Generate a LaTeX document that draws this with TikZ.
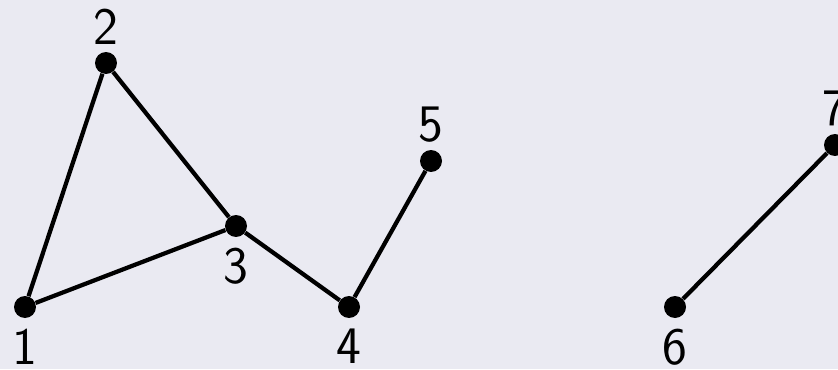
\documentclass[tikz,border=0pt]{standalone}
\usepackage{xcolor}
\usetikzlibrary{positioning}
\definecolor{bgpanel}{HTML}{EAEAF2}

\begin{document}
\begin{tikzpicture}[x=0.02cm,y=0.02cm,
    font=\sffamily\fontsize{30}{36}\selectfont,
    vertex/.style={circle,fill=black,inner sep=0pt,minimum size=0.44cm},
    edge/.style={line width=0.085cm},
    every label/.style={inner sep=0pt},
    below label/.style={label={[label distance=0.2cm]below:#1}},
    above label/.style={label={[label distance=0.14cm]above:#1}}]
    \fill[bgpanel] (0,0) rectangle (838,369);
    \useasboundingbox (0,0) rectangle (838,369);
    % vertices
    \node[vertex,below label=1] (v1) at (25,62) {};
    \node[vertex,above label=2] (v2) at (106,306) {};
    \node[vertex,below label=3] (v3) at (236,143) {};
    \node[vertex,below label=4] (v4) at (349,62) {};
    \node[vertex,above label=5] (v5) at (431,208) {};
    \node[vertex,below label=6] (v6) at (675,62) {};
    \node[vertex,above label=7] (v7) at (835,224) {};
    % edges
    \draw[edge] (v1) -- (v2) -- (v3) -- (v1);
    \draw[edge] (v3) -- (v4) -- (v5);
    \draw[edge] (v6) -- (v7);
\end{tikzpicture}
\end{document}
